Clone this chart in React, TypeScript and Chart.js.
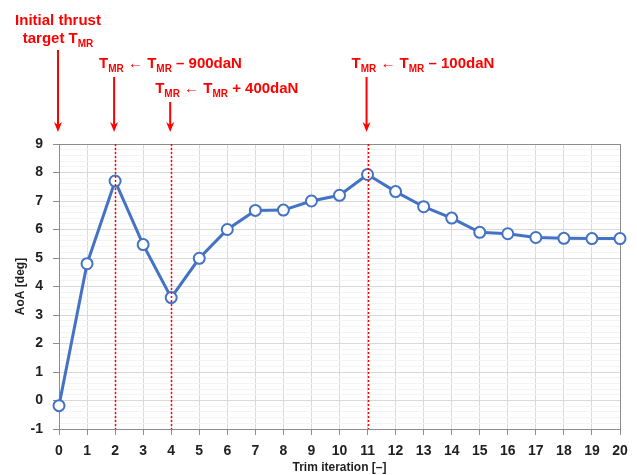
import React, { useEffect, useRef } from 'react';
import { Chart, registerables } from 'chart.js';

Chart.register(...registerables);

// Trim iterations on the x axis and the resulting angle of attack
const iterations = ['0', '1', '2', '3', '4', '5', '6', '7', '8', '9', '10', '11', '12', '13', '14', '15', '16', '17', '18', '19', '20'];
const aoaDeg = [-0.18, 4.8, 7.7, 5.47, 3.61, 4.99, 6.0, 6.67, 6.68, 7.0, 7.2, 7.93, 7.33, 6.8, 6.4, 5.9, 5.85, 5.72, 5.69, 5.68, 5.68];

const yMin = -1;
const yMax = 9;

// Iterations at which the main-rotor thrust target was changed
const retargetAt = [2, 4, 11];

type Part = { t: string; sub?: boolean };

const notes: { at: number; lines: Part[][] }[] = [
  { at: 0, lines: [[{ t: 'Initial thrust' }], [{ t: 'target T' }, { t: 'MR', sub: true }]] },
  { at: 2, lines: [[{ t: 'T' }, { t: 'MR', sub: true }, { t: ' \u2190 T' }, { t: 'MR', sub: true }, { t: ' \u2013 900daN' }]] },
  { at: 4, lines: [[{ t: 'T' }, { t: 'MR', sub: true }, { t: ' \u2190 T' }, { t: 'MR', sub: true }, { t: ' + 400daN' }]] },
  { at: 11, lines: [[{ t: 'T' }, { t: 'MR', sub: true }, { t: ' \u2190 T' }, { t: 'MR', sub: true }, { t: ' \u2013 100daN' }]] },
];

const FONT_FAMILY = '"Liberation Sans", Arial, sans-serif';
const MAIN_FONT = `bold 15px ${FONT_FAMILY}`;
const SUB_FONT = `bold 10px ${FONT_FAMILY}`;
const RED = '#ff0000';
const AXIS_GREY = '#8c8c8c';
const TEXT_DARK = '#1f1f1f';

function drawRich(ctx: CanvasRenderingContext2D, parts: Part[], x: number, y: number, center: boolean) {
  const widths = parts.map((p) => {
    ctx.font = p.sub ? SUB_FONT : MAIN_FONT;
    return ctx.measureText(p.t).width;
  });
  const total = widths.reduce((a, b) => a + b, 0);
  let cx = center ? x - total / 2 : x;
  parts.forEach((p, i) => {
    ctx.font = p.sub ? SUB_FONT : MAIN_FONT;
    ctx.fillText(p.t, cx, p.sub ? y + 4 : y);
    cx += widths[i];
  });
}

function drawArrow(ctx: CanvasRenderingContext2D, x: number, y0: number, tipY: number) {
  ctx.beginPath();
  ctx.moveTo(x, y0);
  ctx.lineTo(x, tipY - 7);
  ctx.lineWidth = 2;
  ctx.strokeStyle = RED;
  ctx.stroke();
  ctx.beginPath();
  ctx.moveTo(x - 4, tipY - 10);
  ctx.lineTo(x, tipY - 7);
  ctx.lineTo(x + 4, tipY - 10);
  ctx.lineTo(x, tipY);
  ctx.closePath();
  ctx.fillStyle = RED;
  ctx.fill();
}

const annotationPlugin = {
  id: 'thrustAnnotations',
  afterDraw(chart: Chart) {
    const { ctx, chartArea, scales } = chart;
    const xs = scales.x;
    ctx.save();

    // dotted markers at each retarget iteration
    ctx.setLineDash([2, 2]);
    ctx.lineWidth = 1.5;
    ctx.strokeStyle = RED;
    retargetAt.forEach((i) => {
      const px = Math.round(xs.getPixelForValue(i)) + 0.5;
      ctx.beginPath();
      ctx.moveTo(px, chartArea.top);
      ctx.lineTo(px, chartArea.bottom);
      ctx.stroke();
    });
    ctx.setLineDash([]);

    // labels and arrows above the plot
    ctx.textAlign = 'left';
    ctx.textBaseline = 'alphabetic';
    const tipY = chartArea.top - 12;
    notes.forEach((n, k) => {
      const px = xs.getPixelForValue(n.at) - 1;
      ctx.fillStyle = RED;
      if (k === 0) {
        drawRich(ctx, n.lines[0], px, 25, true);
        drawRich(ctx, n.lines[1], px, 43, true);
        drawArrow(ctx, px, 50, tipY);
      } else {
        const baseY = n.at === 4 ? 93 : 68;
        drawRich(ctx, n.lines[0], px - 15, baseY, false);
        drawArrow(ctx, px, baseY + 9, tipY);
      }
    });

    // axis titles
    ctx.fillStyle = TEXT_DARK;
    ctx.font = `bold 12px ${FONT_FAMILY}`;
    ctx.textAlign = 'center';
    ctx.textBaseline = 'middle';
    ctx.fillText('Trim iteration [\u2013]', (chartArea.left + chartArea.right) / 2, 468);
    ctx.save();
    ctx.translate(21, (chartArea.top + chartArea.bottom) / 2);
    ctx.rotate(-Math.PI / 2);
    ctx.fillText('AoA [deg]', 0, 0);
    ctx.restore();

    ctx.restore();
  },
};

const isWhole = (v: number) => Math.abs(v - Math.round(v)) < 1e-6;

export default function App() {
  const canvasRef = useRef<HTMLCanvasElement | null>(null);

  useEffect(() => {
    const canvas = canvasRef.current;
    if (!canvas) return;
    const chart = new Chart(canvas, {
      type: 'line',
      data: {
        labels: iterations,
        datasets: [
          {
            data: aoaDeg,
            borderColor: '#4472C4',
            borderWidth: 3,
            pointRadius: 5.5,
            pointBorderWidth: 2,
            pointBackgroundColor: '#ffffff',
            pointBorderColor: '#4472C4',
            tension: 0,
          },
        ],
      },
      options: {
        responsive: false,
        animation: false,
        devicePixelRatio: 1,
        layout: { padding: { top: 144, right: 17, left: 0, bottom: 0 } },
        plugins: { legend: { display: false }, tooltip: { enabled: false } },
        scales: {
          x: {
            type: 'category',
            offset: false,
            afterFit: (s: any) => {
              s.height = 46;
            },
            border: { display: true, color: AXIS_GREY, width: 1 },
            grid: {
              color: (c: any) => (c.index === iterations.length - 1 ? AXIS_GREY : '#d9d9d9'),
              tickColor: AXIS_GREY,
              tickLength: 6,
              lineWidth: 1,
            },
            ticks: {
              color: TEXT_DARK,
              font: { family: FONT_FAMILY, size: 14, weight: 'bold' },
              padding: 8,
              maxRotation: 0,
              autoSkip: false,
            },
          },
          y: {
            min: yMin,
            max: yMax,
            afterFit: (s: any) => {
              s.width = 59;
            },
            border: { display: true, color: AXIS_GREY, width: 1 },
            grid: {
              color: (c: any) => {
                const v = c.tick ? c.tick.value : 0;
                if (Math.abs(v - yMax) < 1e-6) return AXIS_GREY;
                return isWhole(v) ? '#d9d9d9' : '#f3f3f3';
              },
              tickColor: (c: any) => (c.tick && isWhole(c.tick.value) ? AXIS_GREY : 'rgba(0,0,0,0)'),
              tickLength: 6,
              lineWidth: 1,
            },
            ticks: {
              stepSize: 0.2,
              maxTicksLimit: 100,
              autoSkip: false,
              color: TEXT_DARK,
              font: { family: FONT_FAMILY, size: 14, weight: 'bold' },
              padding: 10,
              callback: (v: any) => (isWhole(Number(v)) ? String(Math.round(Number(v))) : ''),
            },
          },
        },
      },
      plugins: [annotationPlugin],
    } as any);
    return () => chart.destroy();
  }, []);

  return (
    <div style={{ position: 'absolute', left: 0, top: 0, width: 637, height: 475, background: '#ffffff' }}>
      <canvas ref={canvasRef} width={637} height={475} style={{ display: 'block' }} />
    </div>
  );
}
